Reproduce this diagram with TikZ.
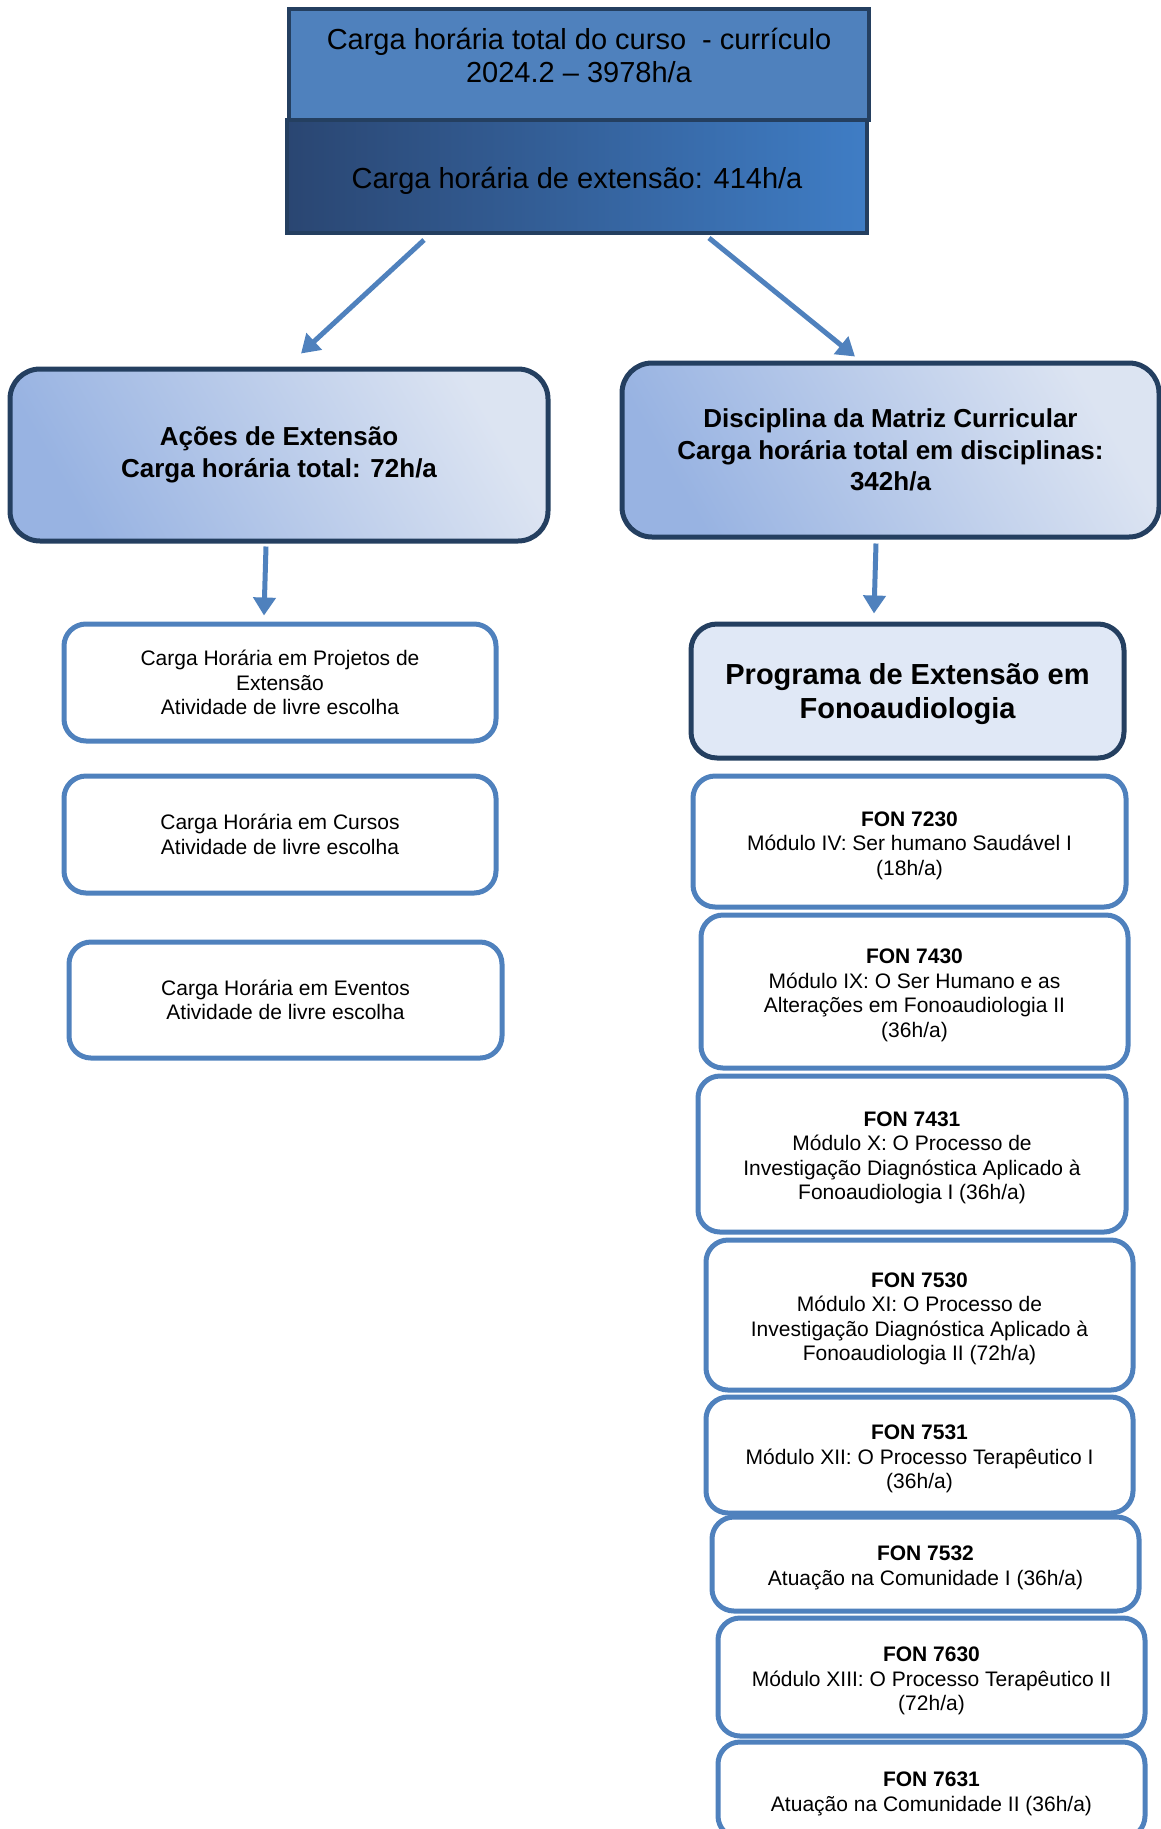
\documentclass[tikz,border=0pt]{standalone}
\usepackage{fontspec}
\setmainfont{Liberation Sans}
\usetikzlibrary{arrows.meta}

\definecolor{azulmedio}{HTML}{4F81BD}
\definecolor{marinho}{HTML}{243F60}
\definecolor{azulescuro}{HTML}{2A4672}
\definecolor{azulvivo}{HTML}{3F7DC5}
\definecolor{azulbaixo}{HTML}{98B3E2}
\definecolor{azulalto}{HTML}{DCE4F2}
\definecolor{azulclaro}{HTML}{E0E8F6}

\newcommand{\fon}[1]{\rule{0pt}{22.5pt}\textbf{FON #1}}

\tikzset{
    topbox/.style={draw=marinho, line width=4pt, minimum width=580pt, align=center,
        font=\fontsize{29}{33}\selectfont},
    bigbox/.style={draw=marinho, line width=5pt, rounded corners=30pt, align=center,
        left color=azulbaixo, right color=azulalto, shading angle=120,
        minimum width=537pt, font=\bfseries\fontsize{26}{31.5}\selectfont},
    progbox/.style={draw=marinho, line width=5pt, rounded corners=26pt, fill=azulclaro,
        align=center, minimum width=433pt, minimum height=134pt,
        font=\bfseries\fontsize{29}{34}\selectfont},
    livrebox/.style={draw=azulmedio, line width=5pt, rounded corners=22pt, fill=white,
        align=center, minimum width=432pt, minimum height=117pt,
        font=\fontsize{21}{24.5}\selectfont},
    fonbox/.style={livrebox, minimum width=427pt},
    seta/.style={draw=azulmedio, line width=5pt, -{Triangle[length=18pt,width=22pt]}}
}

\begin{document}
\begin{tikzpicture}[x=1pt,y=-1pt]
    \useasboundingbox (0,0) rectangle (1161,1829);

    % topo
    \node[topbox, fill=azulmedio, minimum height=111pt] (tot) at (579,64.5)
        {Carga horária total do curso\ \ - currículo\\2024.2 -- 3978h/a\rule[-18pt]{0pt}{18pt}};
    \node[topbox, left color=azulescuro, right color=azulvivo, minimum height=113pt] (ext) at (577,176.5)
        {\rule{0pt}{30pt}Carga horária de extensão: 414h/a};

    % ramos
    \node[bigbox, minimum height=172pt, minimum width=538pt] (acoes) at (279,455)
        {Ações de Extensão\\Carga horária total: 72h/a};
    \node[bigbox, minimum height=174pt] (disc) at (890.5,450)
        {Disciplina da Matriz Curricular\\Carga horária total em disciplinas:\\342h/a};

    \draw[seta] ([xshift=-153pt,yshift=-5pt]ext.south) -- ([xshift=22pt,yshift=13pt]acoes.north);
    \draw[seta] ([xshift=132pt,yshift=-3pt]ext.south) -- ([xshift=-35.5pt,yshift=4pt]disc.north);

    % lado esquerdo
    \node[livrebox] (proj) at (280,682.5)
        {Carga Horária em Projetos de\\Extensão\\Atividade de livre escolha};
    \node[livrebox] (cursos) at (280,834.5)
        {Carga Horária em Cursos\\Atividade de livre escolha};
    \node[livrebox, minimum height=116pt, minimum width=433pt] (eventos) at (285.5,1000)
        {Carga Horária em Eventos\\Atividade de livre escolha};

    \draw[seta] ([xshift=-13pt,yshift=-3pt]acoes.south) -- ([xshift=-16pt,yshift=6pt]proj.north);

    % lado direito
    \node[progbox] (prog) at (907.5,691)
        {\rule{0pt}{28pt}Programa de Extensão em\\Fonoaudiologia};
    \draw[seta] ([xshift=-14.5pt,yshift=-4pt]disc.south) -- ([xshift=-33.5pt,yshift=8pt]prog.north);

    \node[fonbox, minimum width=433pt, minimum height=131pt] (f7230) at (909.5,841.5)
        {\fon{7230}\\Módulo IV: Ser humano Saudável I\\(18h/a)};
    \node[fonbox, minimum height=153pt] (f7430) at (914.5,991.5)
        {\fon{7430}\\Módulo IX: O Ser Humano e as\\Alterações em Fonoaudiologia II\\(36h/a)};
    \node[fonbox, minimum width=428pt, minimum height=156pt] (f7431) at (912,1154)
        {\fon{7431}\\Módulo X: O Processo de\\Investigação Diagnóstica Aplicado à\\Fonoaudiologia I (36h/a)};
    \node[fonbox, minimum height=150pt] (f7530) at (919.5,1315)
        {\fon{7530}\\Módulo XI: O Processo de\\Investigação Diagnóstica Aplicado à\\Fonoaudiologia II (72h/a)};
    \node[fonbox, minimum height=116pt] (f7531) at (919.5,1455)
        {\fon{7531}\\Módulo XII: O Processo Terapêutico I\\(36h/a)};
    \node[fonbox, minimum height=94pt] (f7532) at (925.5,1564)
        {\fon{7532}\\Atuação na Comunidade I (36h/a)};
    \node[fonbox, minimum height=118pt] (f7630) at (931.5,1677)
        {\fon{7630}\\Módulo XIII: O Processo Terapêutico II\\(72h/a)};
    \node[fonbox, minimum height=96pt] (f7631) at (931.5,1790)
        {\fon{7631}\\Atuação na Comunidade II (36h/a)};
\end{tikzpicture}
\end{document}
